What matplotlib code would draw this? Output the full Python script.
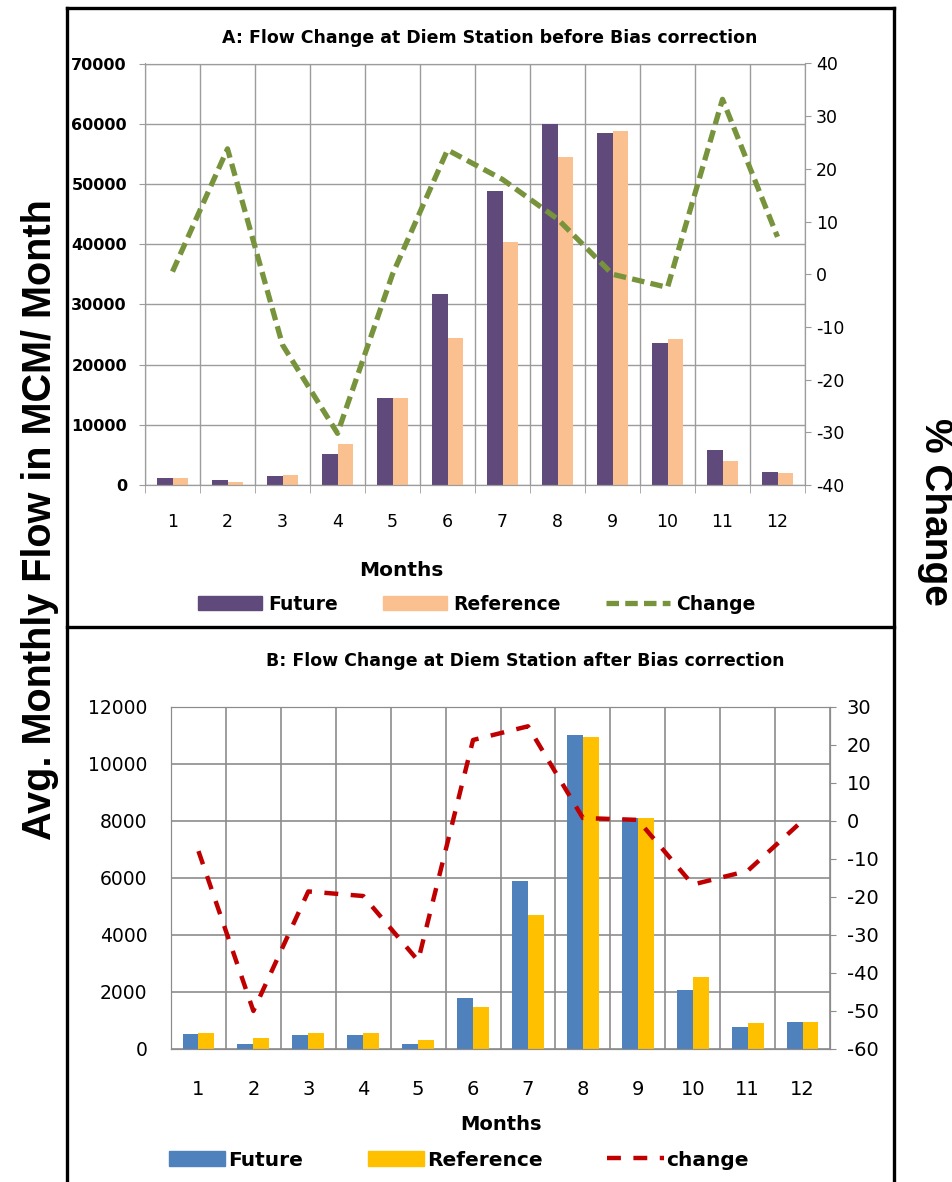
import matplotlib
matplotlib.use('Agg')
import matplotlib.pyplot as plt
import numpy as np
from matplotlib.lines import Line2D
from matplotlib.patches import Patch

plt.rcParams['lines.scale_dashes'] = False
plt.rcParams['axes.unicode_minus'] = False

#monthly flow (MCM/month) and % change at Diem station
months = list(range(1, 13))

#A: before bias correction
fut_a = [1110, 880, 1500, 5150, 14400, 31800, 48800, 60000, 58500, 23600, 5750, 2100]
ref_a = [1110, 500, 1700, 6750, 14400, 24400, 40400, 54500, 58850, 24200, 3950, 1950]
chg_a = [0.5, 23.8, -13.4, -30.2, 0.0, 23.6, 18.0, 10.5, 0.0, -2.5, 33.2, 7.1]

#B: after bias correction
fut_b = [535, 185, 500, 500, 185, 1775, 5885, 11010, 8080, 2080, 770, 935]
ref_b = [570, 370, 570, 570, 300, 1460, 4700, 10930, 8080, 2520, 900, 935]
chg_b = [-8.0, -50.0, -18.6, -19.8, -36.8, 21.2, 24.8, 0.7, 0.2, -16.8, -13.2, 0.0]

W, H = 952, 1182
fig = plt.figure(figsize=(W / 100, H / 100), dpi=100)

x = np.array(months)
bw = 0.29
gridc = '#9c9c9c'
bounds = np.arange(0.5, 13, 1)

# ---------- panel A ----------
ax1 = fig.add_axes([145 / W, 1 - 485 / H, 660 / W, 421.5 / H])
ax1.bar(x - bw / 2, fut_a, bw, color='#604A7B', zorder=2)
ax1.bar(x + bw / 2, ref_a, bw, color='#FAC090', zorder=2)
ax1.set_xlim(0.5, 12.5)
ax1.set_ylim(0, 70000)
ax1.set_yticks(np.arange(0, 70001, 10000))
ax1.set_xticks(x)
ax1.set_xticks(bounds, minor=True)
ax1.grid(True, which='major', axis='y', color=gridc, lw=1)
ax1.grid(True, which='minor', axis='x', color=gridc, lw=1)
ax1.set_axisbelow(True)
ax1.tick_params(axis='x', which='major', length=0, pad=20, labelsize=12.5)
ax1.tick_params(axis='x', which='minor', length=6, color=gridc)
ax1.tick_params(axis='y', length=4, color=gridc, pad=9)
for lab in ax1.get_yticklabels():
    lab.set_fontweight('bold')
    lab.set_fontsize(11.5)

ax2 = ax1.twinx()
ax2.plot(x, chg_a, color='#77933C', lw=3.8, linestyle=(0, (9, 4.5)), zorder=3)
ax2.set_ylim(-40, 40)
ax2.set_yticks(np.arange(-40, 41, 10))
ax2.tick_params(axis='y', length=4, color=gridc, pad=4, labelsize=12.5)
for a in (ax1, ax2):
    for s in a.spines.values():
        s.set_color(gridc)

# ---------- panel B ----------
ax3 = fig.add_axes([171 / W, 1 - 1049 / H, 659 / W, 342.5 / H])
ax3.bar(x - bw / 2, fut_b, bw, color='#4F81BD', zorder=2)
ax3.bar(x + bw / 2, ref_b, bw, color='#FFC000', zorder=2)
ax3.set_xlim(0.5, 12.5)
ax3.set_ylim(0, 12000)
ax3.set_yticks(np.arange(0, 12001, 2000))
ax3.set_xticks(x)
ax3.set_xticks(bounds, minor=True)
ax3.grid(True, which='major', axis='y', color='#8c8c8c', lw=1.2)
ax3.grid(True, which='minor', axis='x', color='#8c8c8c', lw=1.2)
ax3.set_axisbelow(True)
ax3.tick_params(axis='x', which='major', length=0, pad=22, labelsize=14)
ax3.tick_params(axis='x', which='minor', length=0)
ax3.tick_params(axis='y', length=0, pad=17, labelsize=13.5)

ax4 = ax3.twinx()
ax4.plot(x, chg_b, color='#C00000', lw=3.2, linestyle=(0, (10, 9)), zorder=3)
ax4.set_ylim(-60, 30)
ax4.set_yticks(np.arange(-60, 31, 10))
ax4.tick_params(axis='y', length=4, color='#8c8c8c', pad=8, labelsize=14)
for a in (ax3, ax4):
    for s in a.spines.values():
        s.set_color('#8c8c8c')

# titles and axis names
fig.text(490 / W, 1 - 38 / H, 'A: Flow Change at Diem Station before Bias correction',
         ha='center', va='center', fontsize=12.5, fontweight='bold')
fig.text(525 / W, 1 - 661 / H, 'B: Flow Change at Diem Station after Bias correction',
         ha='center', va='center', fontsize=12.5, fontweight='bold')
fig.text(401 / W, 1 - 570 / H, 'Months', ha='center', va='center',
         fontsize=14.5, fontweight='bold')
fig.text(501 / W, 1 - 1125 / H, 'Months', ha='center', va='center',
         fontsize=14, fontweight='bold')
fig.text(40 / W, 1 - 520 / H, 'Avg. Monthly Flow in MCM/ Month', rotation=90,
         ha='center', va='center', fontsize=28.5, fontweight='bold',
         family='Liberation Sans')
fig.text(935 / W, 1 - 512 / H, '% Change', rotation=-90,
         ha='center', va='center', fontsize=28, fontweight='bold',
         family='Liberation Sans')

# legends
h_a = [Patch(color='#604A7B', label='Future'),
       Patch(color='#FAC090', label='Reference'),
       Line2D([], [], color='#77933C', lw=3.8, linestyle=(0, (9, 4.5)), label='Change')]
fig.legend(handles=h_a, loc='center', bbox_to_anchor=(477 / W, 1 - 604 / H), ncol=3,
           frameon=False, handlelength=3.4, handletextpad=0.35, columnspacing=2.4,
           prop={'size': 13.5, 'weight': 'bold'})

h_b = [Patch(color='#4F81BD', label='Future'),
       Patch(color='#FFC000', label='Reference'),
       Line2D([], [], color='#C00000', lw=3.2, linestyle=(0, (10, 9)), label='change')]
fig.legend(handles=h_b, loc='center', bbox_to_anchor=(459 / W, 1 - 1160 / H), ncol=3,
           frameon=False, handlelength=2.8, handletextpad=0.15, columnspacing=3.2,
           prop={'size': 14.5, 'weight': 'bold'})

# black frame around both panels (open at the bottom)
fl = 67 / W
fr = 894 / W
ft = 1 - 8 / H
fm = 1 - 627 / H
for xs, ys in [([fl, fl], [0, ft]), ([fr, fr], [0, ft]), ([fl, fr], [ft, ft]),
               ([fl, fr], [fm, fm])]:
    fig.add_artist(Line2D(xs, ys, color='black', lw=2.4, transform=fig.transFigure))

fig.savefig('out.png', dpi=100)
